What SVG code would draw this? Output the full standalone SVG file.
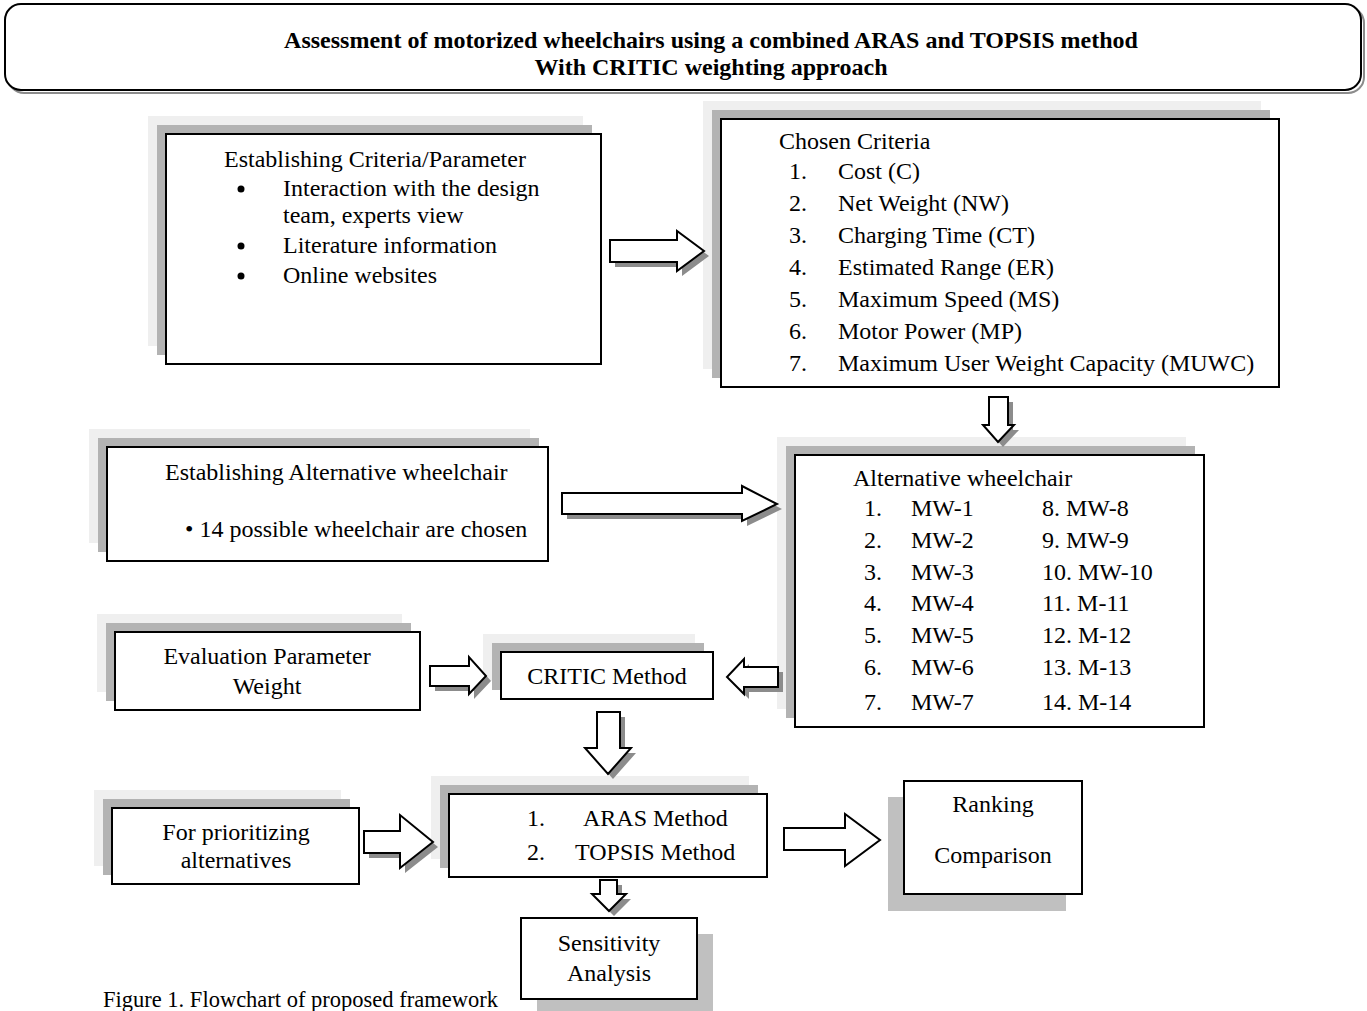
<svg xmlns="http://www.w3.org/2000/svg" width="1367" height="1011" viewBox="0 0 1367 1011">
<style>
text{font-family:"Liberation Serif","Times New Roman",serif;font-size:24px;fill:#000}
.t{font-weight:bold;font-size:24px}
.box{fill:#fff;stroke:#000;stroke-width:2}
.sh1{fill:#efefef}
.sh2{fill:#b3b3b3}
.sh3{fill:#c0c0c0}
.arr{fill:#fff;stroke:#000;stroke-width:2;stroke-linejoin:miter}
.ash{fill:#8c8c8c}
.c{text-anchor:middle}
</style>
<rect width="1367" height="1011" fill="#fff"/>
<g id="title">
<rect x="8" y="7" width="1356" height="86" rx="16" fill="none" stroke="#8c8c8c" stroke-width="2"/>
<rect x="5" y="4" width="1356" height="86" rx="16" fill="#fff" stroke="#000" stroke-width="2"/>
<text class="t c" x="711" y="48">Assessment of motorized wheelchairs using a combined ARAS and TOPSIS method</text>
<text class="t c" x="711" y="75">With CRITIC weighting approach</text>
</g>
<g id="n-criteria">
<rect class="sh1" x="148" y="116" width="435" height="230"/>
<rect class="sh2" x="157" y="125" width="435" height="230"/>
<rect class="box" x="166" y="134" width="435" height="230"/>
<text x="224" y="167">Establishing Criteria/Parameter</text>
<circle cx="241" cy="189" r="3.5"/>
<text x="283" y="196">Interaction with the design</text>
<text x="283" y="223">team, experts view</text>
<circle cx="241" cy="246" r="3.5"/>
<text x="283" y="253">Literature information</text>
<circle cx="241" cy="276" r="3.5"/>
<text x="283" y="283">Online websites</text>
</g>
<g id="n-chosen">
<rect class="sh1" x="703" y="101" width="558" height="268"/>
<rect class="sh2" x="712" y="110" width="558" height="268"/>
<rect class="box" x="721" y="119" width="558" height="268"/>
<text x="779" y="149">Chosen Criteria</text>
<text x="789" y="179">1.</text><text x="838" y="179">Cost (C)</text>
<text x="789" y="211">2.</text><text x="838" y="211">Net Weight (NW)</text>
<text x="789" y="243">3.</text><text x="838" y="243">Charging Time (CT)</text>
<text x="789" y="275">4.</text><text x="838" y="275">Estimated Range (ER)</text>
<text x="789" y="307">5.</text><text x="838" y="307">Maximum Speed (MS)</text>
<text x="789" y="339">6.</text><text x="838" y="339">Motor Power (MP)</text>
<text x="789" y="371">7.</text><text x="838" y="371">Maximum User Weight Capacity (MUWC)</text>
</g>
<g id="n-establish-alt">
<rect class="sh1" x="89" y="429" width="441" height="114"/>
<rect class="sh2" x="98" y="438" width="441" height="114"/>
<rect class="box" x="107" y="447" width="441" height="114"/>
<text x="165" y="480">Establishing Alternative wheelchair</text>
<text x="185" y="537">• 14 possible wheelchair are chosen</text>
</g>
<g id="n-alt">
<rect class="sh1" x="777" y="437" width="409" height="272"/>
<rect class="sh2" x="786" y="446" width="409" height="272"/>
<rect class="box" x="795" y="455" width="409" height="272"/>
<text x="853" y="486">Alternative wheelchair</text>
<text x="864" y="516">1.</text><text x="911" y="516">MW-1</text><text x="1042" y="516">8. MW-8</text>
<text x="864" y="548">2.</text><text x="911" y="548">MW-2</text><text x="1042" y="548">9. MW-9</text>
<text x="864" y="580">3.</text><text x="911" y="580">MW-3</text><text x="1042" y="580">10. MW-10</text>
<text x="864" y="611">4.</text><text x="911" y="611">MW-4</text><text x="1042" y="611">11. M-11</text>
<text x="864" y="643">5.</text><text x="911" y="643">MW-5</text><text x="1042" y="643">12. M-12</text>
<text x="864" y="675">6.</text><text x="911" y="675">MW-6</text><text x="1042" y="675">13. M-13</text>
<text x="864" y="710">7.</text><text x="911" y="710">MW-7</text><text x="1042" y="710">14. M-14</text>
</g>
<g id="n-eval">
<rect class="sh1" x="97" y="614" width="305" height="78"/>
<rect class="sh2" x="106" y="623" width="305" height="78"/>
<rect class="box" x="115" y="632" width="305" height="78"/>
<text class="c" x="267" y="664">Evaluation Parameter</text>
<text class="c" x="267" y="694">Weight</text>
</g>
<g id="n-critic">
<rect class="sh1" x="483" y="634" width="212" height="47"/>
<rect class="sh2" x="492" y="643" width="212" height="47"/>
<rect class="box" x="501" y="652" width="212" height="47"/>
<text class="c" x="607" y="684">CRITIC Method</text>
</g>
<g id="n-methods">
<rect class="sh1" x="431" y="776" width="318" height="83"/>
<rect class="sh2" x="440" y="785" width="318" height="83"/>
<rect class="box" x="449" y="794" width="318" height="83"/>
<text x="527" y="826">1.</text><text x="583" y="826">ARAS Method</text>
<text x="527" y="860">2.</text><text x="575" y="860">TOPSIS Method</text>
</g>
<g id="n-prior">
<rect class="sh1" x="94" y="790" width="247" height="76"/>
<rect class="sh2" x="103" y="799" width="247" height="76"/>
<rect class="box" x="112" y="808" width="247" height="76"/>
<text class="c" x="236" y="840">For prioritizing</text>
<text class="c" x="236" y="868">alternatives</text>
</g>
<g id="n-ranking">
<rect class="sh3" x="888" y="797" width="178" height="114"/>
<rect class="box" x="904" y="781" width="178" height="113"/>
<text class="c" x="993" y="812">Ranking</text>
<text class="c" x="993" y="863">Comparison</text>
</g>
<g id="n-sens">
<rect class="sh3" x="537" y="934" width="176" height="90"/>
<rect class="box" x="521" y="918" width="176" height="81"/>
<text class="c" x="609" y="951">Sensitivity</text>
<text class="c" x="609" y="981">Analysis</text>
</g>
<g id="connectors">
<g transform="translate(5,5)" class="ash">
<path d="M610,240 H677 V231 L704,251 L677,271 V262 H610 Z"/>
<path d="M989,397 H1008 V425 H1014 L998,442 L983,425 H989 Z"/>
<path d="M562,493 H742 V486 L777,504 L742,521 V514 H562 Z"/>
<path d="M430,666 H469 V657 L486,676 L469,694 V686 H430 Z"/>
<path d="M778,667 H744 V659 L727,677 L744,694 V687 H778 Z"/>
<path d="M597,712 H620 V748 H631 L608,774 L585,748 H597 Z"/>
<path d="M364,831 H400 V815 L433,842 L400,868 V853 H364 Z"/>
<path d="M600,880 H617 V894 H626 L609,911 L592,894 H600 Z"/>
</g>
<path class="arr" d="M610,240 H677 V231 L704,251 L677,271 V262 H610 Z"/>
<path class="arr" d="M989,397 H1008 V425 H1014 L998,442 L983,425 H989 Z"/>
<path class="arr" d="M562,493 H742 V486 L777,504 L742,521 V514 H562 Z"/>
<path class="arr" d="M430,666 H469 V657 L486,676 L469,694 V686 H430 Z"/>
<path class="arr" d="M778,667 H744 V659 L727,677 L744,694 V687 H778 Z"/>
<path class="arr" d="M597,712 H620 V748 H631 L608,774 L585,748 H597 Z"/>
<path class="arr" d="M364,831 H400 V815 L433,842 L400,868 V853 H364 Z"/>
<path class="arr" d="M784,828 H845 V814 L880,840 L845,866 V850 H784 Z"/>
<path class="arr" d="M600,880 H617 V894 H626 L609,911 L592,894 H600 Z"/>
</g>
<text x="103" y="1007" style="font-size:22.5px">Figure 1. Flowchart of proposed framework</text>
</svg>
